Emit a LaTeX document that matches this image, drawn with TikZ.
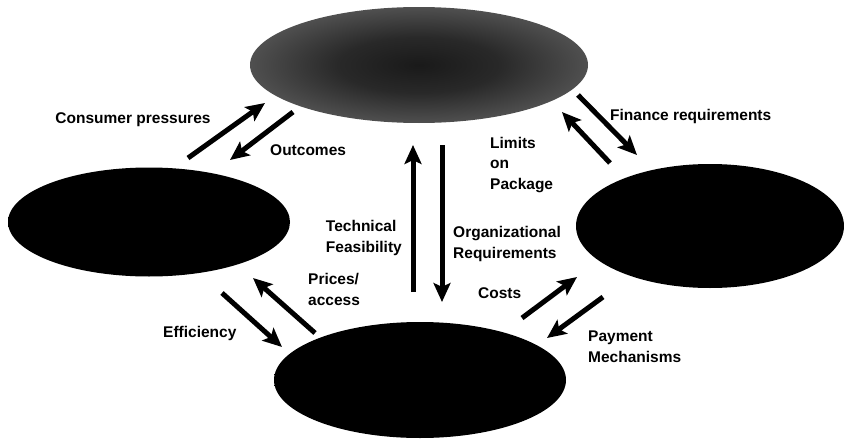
\documentclass[tikz,border=0pt]{standalone}
\usepackage{fontspec}
\setmainfont{Liberation Sans}
\usetikzlibrary{shapes.geometric,arrows.meta}

% dark areas: black core, greyish rim
\pgfdeclareradialshading{darkblob}{\pgfpoint{0bp}{0bp}}{color(0bp)=(black); color(29bp)=(black); color(36bp)=(black!74); color(50bp)=(black!74)}
\pgfdeclareradialshading{greyblob}{\pgfpoint{0bp}{0bp}}{color(0bp)=(black!90); color(12bp)=(black!84); color(36bp)=(black!56); color(50bp)=(black!56)}

\tikzset{
    blob/.style={ellipse,inner sep=0pt,shading=darkblob},
    flow/.style={line width=5pt,-{Stealth[length=19pt,width=17pt,inset=4pt]}},
    lbl/.style={inner sep=0pt,align=left,font=\fontsize{15.5}{20.5}\selectfont\bfseries}
}

\begin{document}
\begin{tikzpicture}[x=1pt,y=-1pt]
    \useasboundingbox (0,0) rectangle (847,439);

    % the four areas
    \node[blob,shading=greyblob,minimum width=338pt,minimum height=116pt] (top) at (419,65) {};
    \node[blob,minimum width=282pt,minimum height=109pt] (left) at (149,222) {};
    \node[blob,minimum width=268pt,minimum height=124pt] (right) at (710,226) {};
    \node[blob,minimum width=292pt,minimum height=116pt] (bottom) at (420,380) {};

    % arrow ends
    \coordinate (cp0) at (188,158); \coordinate (cp1) at (265,103);
    \coordinate (oc0) at (293,112); \coordinate (oc1) at (230,160);
    \coordinate (ef0) at (222,293); \coordinate (ef1) at (282,347);
    \coordinate (pa0) at (315,333); \coordinate (pa1) at (253,278);
    \coordinate (tf0) at (413,292); \coordinate (tf1) at (413,145);
    \coordinate (or0) at (442,145); \coordinate (or1) at (442,302);
    \coordinate (fr0) at (578,95);  \coordinate (fr1) at (637,155);
    \coordinate (lp0) at (610,163); \coordinate (lp1) at (562,112);
    \coordinate (co0) at (522,318); \coordinate (co1) at (577,277);
    \coordinate (pm0) at (603,297); \coordinate (pm1) at (547,338);

    \foreach \a in {cp,oc,ef,pa,tf,or,fr,lp,co,pm}
        \draw[flow] (\a0) -- (\a1);

    % labels (base = last line)
    \node[lbl,anchor=base] at (133,123) {Consumer pressures};
    \node[lbl,anchor=base west] at (270,155) {Outcomes};
    \node[lbl,anchor=base west] at (163,337) {Efficiency};
    \node[lbl,anchor=base west] at (308,305) {Prices/\\access};
    \node[lbl,anchor=base east] at (402,252) {Technical\\Feasibility};
    \node[lbl,anchor=base west] at (490,189) {Limits\\on\\Package};
    \node[lbl,anchor=base west] at (453,258) {Organizational\\Requirements};
    \node[lbl,anchor=base west] at (478,298) {Costs};
    \node[lbl,anchor=base west] at (588,362) {Payment\\Mechanisms};
    \node[lbl,anchor=base west] at (610,120) {Finance requirements};
\end{tikzpicture}
\end{document}
